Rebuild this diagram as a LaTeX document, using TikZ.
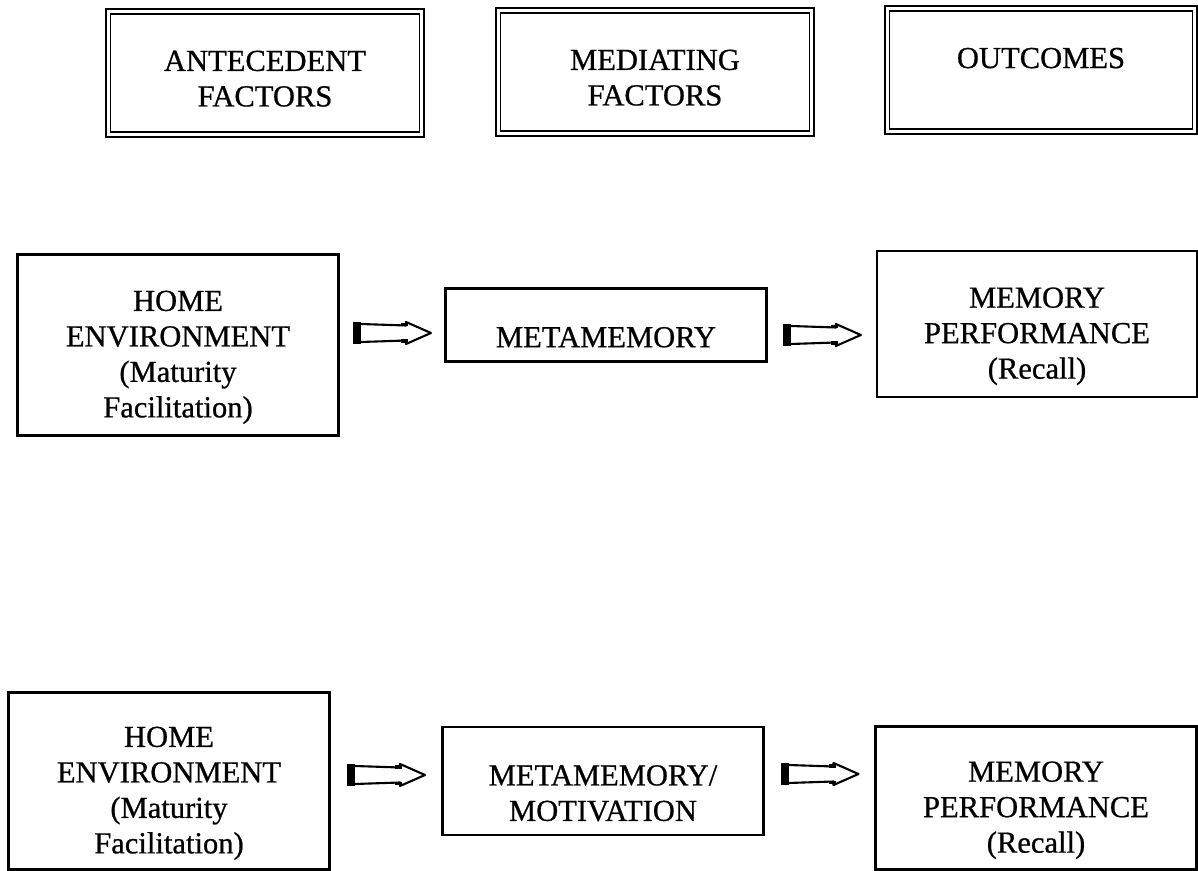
\documentclass[tikz,border=0pt]{standalone}
\usepackage{fontspec}
\setmainfont{Liberation Serif}
\newfontfamily\scanfont{Liberation Serif}[BoldFont={Liberation Serif}, BoldFeatures={FakeBold=0.7}]
\usetikzlibrary{calc}

% extra room above the first line, text sits low in the boxes
\newcommand{\lowtext}{\rule{0pt}{25.5pt}}
\newcommand{\lowhead}{\rule{0pt}{18pt}}

\tikzset{
  hdrbox/.style={draw=black, double, line width=1.1pt, double distance=1.7pt,
    align=center, inner sep=0pt, minimum width=6.28cm, minimum height=2.46cm},
  varbox/.style={draw=black, line width=1.3pt, align=center, inner sep=0pt,
    minimum width=6.42cm},
  arrowline/.style={draw=black, line width=1.2pt, line join=round}
}

% hollow block arrow, centred in the gap between two boxes (#3 = vertical shift)
\newcommand{\flowarrow}[3]{%
  \coordinate (mid) at ($(#1.east |- #2.west)!0.5!(#2.west) + (0,#3)$);
  \begin{scope}[shift={(mid)}]
    \fill (-39,-11) rectangle (-31,11);
    \draw[arrowline] (-31,9) -- (14,7.5) -- (14,11) -- (39,0) -- (14,-11) -- (14,-7.5) -- (-31,-9);
    \fill (9,6.5) rectangle (16,10);
    \fill (9,-6.5) rectangle (16,-10);
  \end{scope}}

\begin{document}
\begin{tikzpicture}[x=0.02cm, y=-0.02cm, font=\scanfont\bfseries\fontsize{17.4}{20.2}\selectfont]
  \useasboundingbox (0,0) rectangle (1198,871);

  % column heads
  \node[hdrbox] (antec) at (265,73) {\lowhead ANTECEDENT\\FACTORS};
  \node[hdrbox] (medi) at (655,72) {\lowhead MEDIATING\\FACTORS};
  \node[hdrbox, minimum width=6.16cm] (outc) at (1041,70) {\lowhead OUTCOMES\\~};

  % first model
  \node[varbox, minimum height=3.62cm] (home1) at (178,345) {\lowtext HOME\\ENVIRONMENT\\(Maturity\\Facilitation)};
  \node[varbox, minimum height=1.46cm] (meta1) at (606,325) {\lowtext METAMEMORY};
  \node[varbox, minimum width=6.39cm, minimum height=2.92cm] (mem1) at (1037,324) {\lowtext MEMORY\\PERFORMANCE\\(Recall)};

  % second model
  \node[varbox, minimum height=3.54cm] (home2) at (169,781) {\lowtext HOME\\ENVIRONMENT\\(Maturity\\Facilitation)};
  \node[varbox, minimum height=2.16cm] (meta2) at (603,781) {\lowtext METAMEMORY/\\MOTIVATION};
  \node[varbox, minimum height=2.86cm] (mem2) at (1036,798) {\lowtext MEMORY\\PERFORMANCE\\(Recall)};

  \flowarrow{home1}{meta1}{8}
  \flowarrow{meta1}{mem1}{11}
  \flowarrow{home2}{meta2}{-6}
  \flowarrow{meta2}{mem2}{-24}
\end{tikzpicture}
\end{document}
